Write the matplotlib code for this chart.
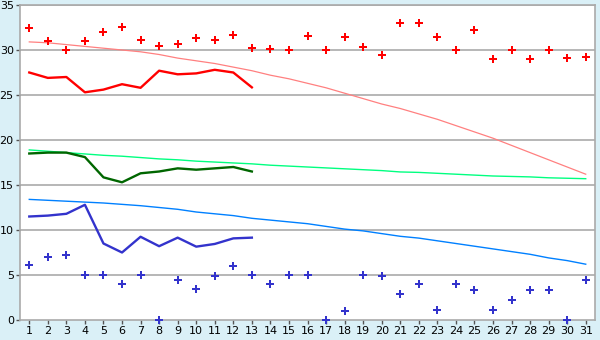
import matplotlib.pyplot as plt

# Tage
days = list(range(1, 32))

# Punkte (Max / Min)
max_pts = [32.4, 31.0, 30.0, 31.0, 32.0, 32.6, 31.1, 30.5, 30.7, 31.3,
           31.1, 31.7, 30.2, 30.1, 30.0, 31.6, 30.0, 31.4, 30.3, 29.4,
           33.0, 33.0, 31.5, 30.0, 32.2, 29.0, 30.0, 29.0, 30.0, 29.1, 29.2]
min_pts = [6.1, 7.0, 7.2, 5.0, 5.0, 4.0, 5.0, 0.0, 4.4, 3.5,
           4.85, 6.0, 5.0, 4.0, 5.0, 5.0, 0.0, 1.0, 5.0, 4.85,
           2.85, 4.0, 1.1, 4.0, 3.3, 1.1, 2.2, 3.3, 3.3, 0.0, 4.4]

# Linien (nur Tage 1-13)
red_line = [27.5, 26.9, 27.0, 25.3, 25.6, 26.2, 25.8, 27.7, 27.3, 27.4, 27.8, 27.5, 25.85]
green_line = [18.5, 18.6, 18.6, 18.1, 15.85, 15.3, 16.3, 16.5, 16.85, 16.7, 16.85, 17.0, 16.5]
blue_line = [11.5, 11.6, 11.8, 12.8, 8.5, 7.5, 9.25, 8.2, 9.15, 8.15, 8.45, 9.07, 9.15]

# Trendlinien
red_trend = [30.9, 30.8, 30.6, 30.4, 30.2, 30.0, 29.8, 29.5, 29.1, 28.8,
             28.5, 28.1, 27.7, 27.2, 26.8, 26.3, 25.8, 25.2, 24.6, 24.0,
             23.5, 22.9, 22.3, 21.6, 20.9, 20.2, 19.4, 18.6, 17.8, 17.0, 16.2]
green_trend = [18.9, 18.75, 18.6, 18.45, 18.3, 18.2, 18.05, 17.9, 17.8, 17.65,
               17.55, 17.45, 17.35, 17.2, 17.1, 17.0, 16.9, 16.8, 16.7, 16.6,
               16.45, 16.4, 16.3, 16.2, 16.1, 16.0, 15.95, 15.9, 15.8, 15.75, 15.7]
blue_trend = [13.4, 13.3, 13.2, 13.1, 13.0, 12.85, 12.7, 12.5, 12.3, 12.0,
              11.8, 11.6, 11.3, 11.1, 10.9, 10.7, 10.4, 10.1, 9.9, 9.6,
              9.3, 9.1, 8.8, 8.5, 8.2, 7.9, 7.6, 7.3, 6.9, 6.6, 6.2]

fig = plt.figure(figsize=(6, 3.4), dpi=100, facecolor='#DAF0F7')
ax = fig.add_axes([20 / 600, 20 / 340, 575 / 600, 315 / 340])
ax.set_facecolor('white')

grid_c = '#AAAAAA'
for y in range(5, 36, 5):
    ax.axhline(y, color=grid_c, lw=1.2, zorder=1)

ax.plot(days, red_trend, color='#FF8080', lw=0.9, zorder=2)
ax.plot(days, green_trend, color='#00FF80', lw=1.0, zorder=2)
ax.plot(days, blue_trend, color='#0080FF', lw=1.0, zorder=2)

ax.plot(days[:13], red_line, color='#FF0000', lw=1.7, zorder=3)
ax.plot(days[:13], green_line, color='#006600', lw=1.7, zorder=3)
ax.plot(days[:13], blue_line, color='#3333CC', lw=1.7, zorder=3)

ax.plot(days, max_pts, 'P', color='#FF0000', ms=6, mew=0, ls='none', zorder=4, clip_on=False)
ax.plot(days, min_pts, 'P', color='#3333CC', ms=6, mew=0, ls='none', zorder=4, clip_on=False)

ax.set_xlim(0.5, 31.5)
ax.set_ylim(0, 35)
ax.set_xticks(days)
ax.set_yticks(range(0, 36, 5))

for s in ax.spines.values():
    s.set_color(grid_c)
    s.set_linewidth(1.2)

ax.tick_params(axis='both', colors='#555555', labelcolor='black', labelsize=8,
               length=3, width=1, direction='out', pad=1.5)

fig.savefig('out.png', dpi=100, facecolor=fig.get_facecolor())
